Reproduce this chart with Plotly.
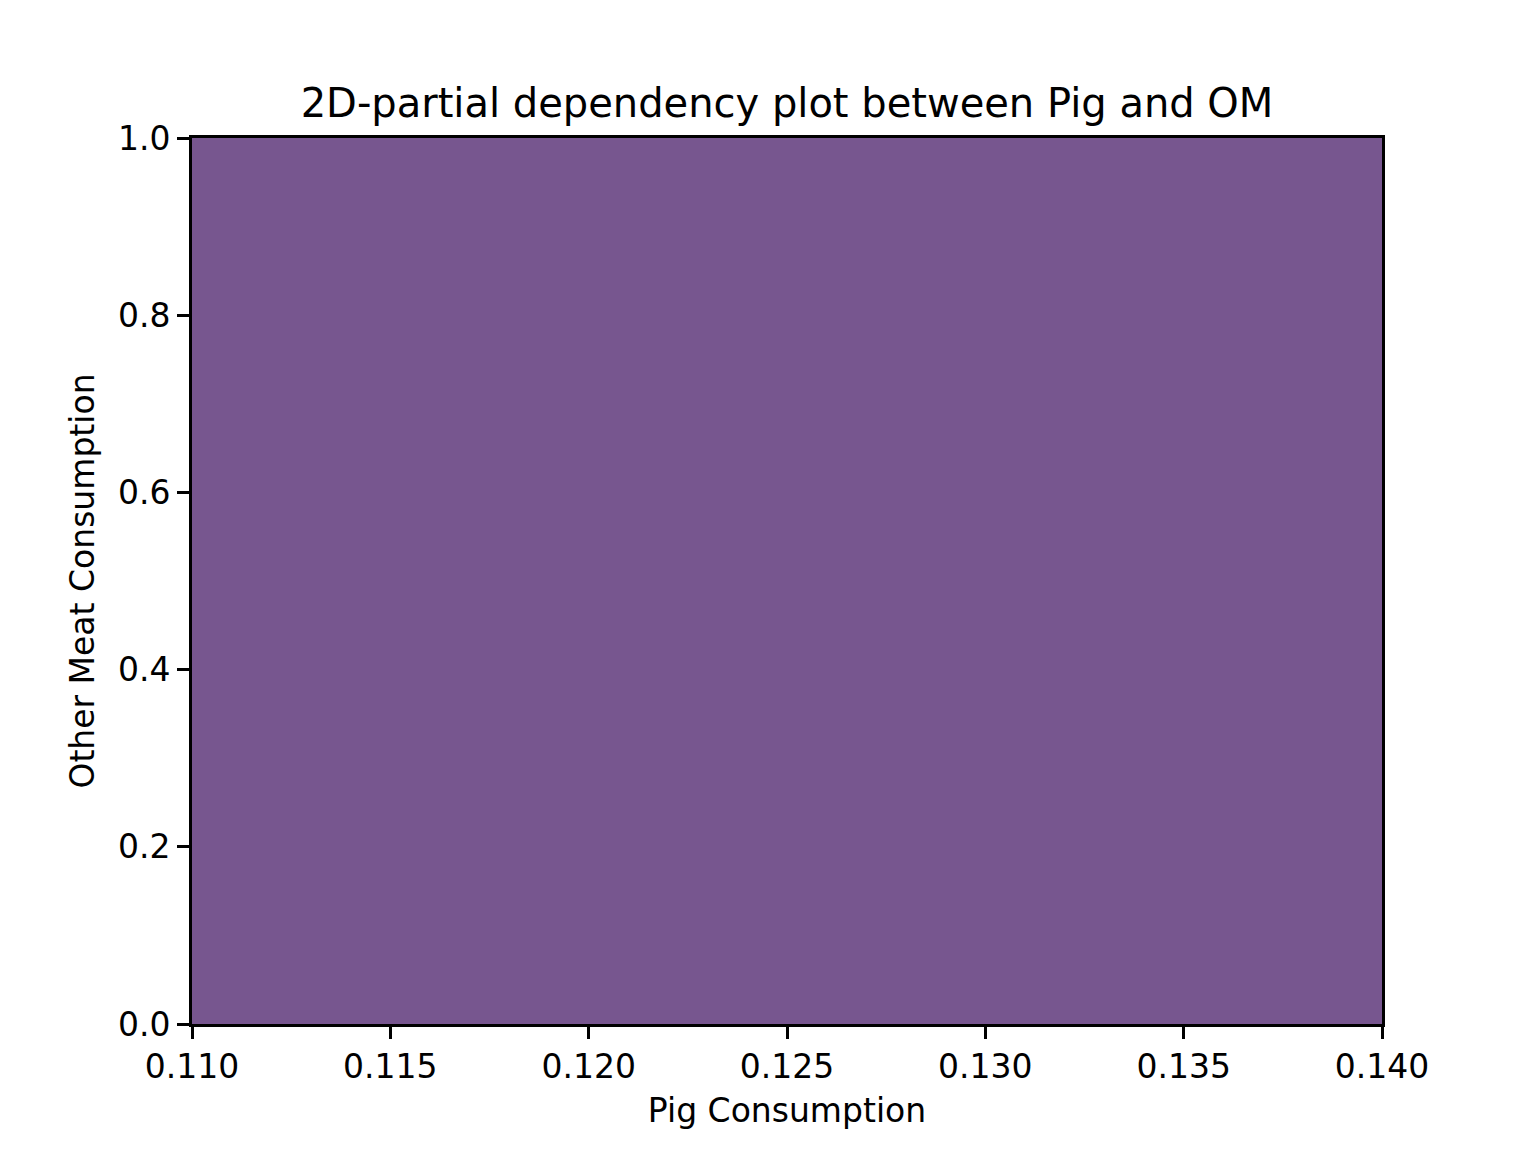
import plotly.graph_objects as go

# grid of the partial dependence (constant surface)
pig = [0.110, 0.115, 0.120, 0.125, 0.130, 0.135, 0.140]
other_meat = [0.0, 0.2, 0.4, 0.6, 0.8, 1.0]
pdp = [[0.5] * len(pig) for _ in other_meat]

x_ticks = [0.110, 0.115, 0.120, 0.125, 0.130, 0.135, 0.140]
x_labels = ["0.110", "0.115", "0.120", "0.125", "0.130", "0.135", "0.140"]
y_ticks = [0.0, 0.2, 0.4, 0.6, 0.8, 1.0]
y_labels = ["0.0", "0.2", "0.4", "0.6", "0.8", "1.0"]

purple = "#77568F"

fig = go.Figure(
    go.Heatmap(
        x=pig,
        y=other_meat,
        z=pdp,
        colorscale=[[0, purple], [1, purple]],
        showscale=False,
        hoverinfo="skip",
    )
)

axis_style = dict(
    showgrid=False,
    zeroline=False,
    showline=True,
    linecolor="black",
    linewidth=2.7,
    mirror=True,
    ticks="outside",
    ticklen=12,
    tickwidth=2.7,
    tickcolor="black",
    tickfont=dict(size=33, color="black"),
)

fig.update_xaxes(
    range=[0.110, 0.140],
    tickvals=x_ticks,
    ticktext=x_labels,
    title=dict(text="Pig Consumption", font=dict(size=33, color="black"), standoff=14),
    **axis_style,
)
fig.update_yaxes(
    range=[0.0, 1.0],
    tickvals=y_ticks,
    ticktext=y_labels,
    title=dict(text="Other Meat Consumption", font=dict(size=33, color="black"), standoff=14),
    **axis_style,
)

# page body has an 8px margin, so the figure is shifted; compensate here
fig.update_layout(
    width=1520,
    height=1136,
    margin=dict(l=184, r=146, t=130, b=120),
    paper_bgcolor="white",
    plot_bgcolor="white",
    font=dict(family="DejaVu Sans", color="black"),
    title=dict(
        text="2D-partial dependency plot between Pig and OM",
        font=dict(size=40, color="black"),
        x=(184 + 1374) / 2 / 1520,
        xanchor="center",
        y=1 - 95 / 1136,
        yanchor="middle",
    ),
)

fig.write_html("out.html")
